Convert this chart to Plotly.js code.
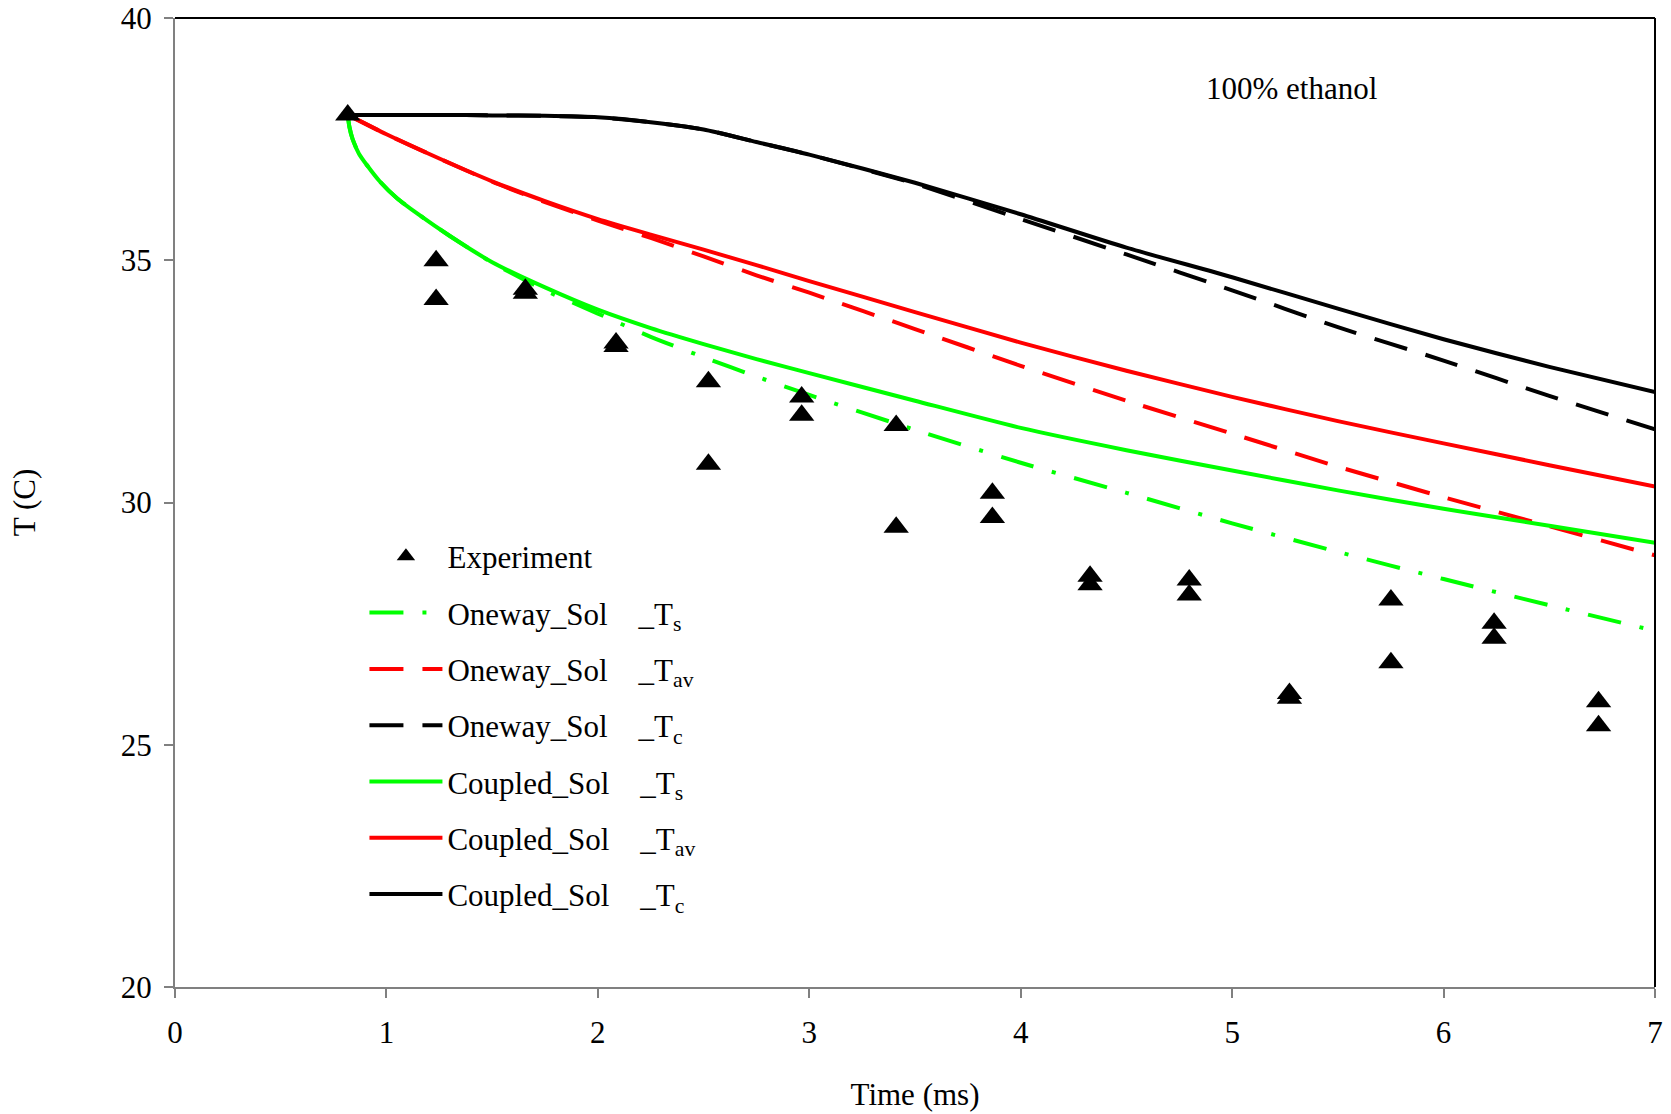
<!DOCTYPE html>
<html>
<head>
<meta charset="utf-8">
<script src="https://cdn.plot.ly/plotly-3.0.1.min.js"></script>
<style>html,body{margin:0;padding:0;background:#fff;}#chart{width:1671px;height:1114px;}</style>
</head>
<body>
<div id="chart"></div>
<script>
// Experiment (triangles)
const expTime = [0.817, 1.235, 1.235, 1.657, 1.657, 2.086, 2.086, 2.523, 2.523, 2.964, 2.964, 3.411, 3.411, 3.866, 3.866, 4.328, 4.328, 4.797, 4.797, 5.271, 5.271, 5.751, 5.751, 6.239, 6.239, 6.733, 6.733];
const expTemp = [38.0, 34.99, 34.19, 34.40, 34.32, 33.29, 33.22, 32.49, 30.79, 32.18, 31.80, 31.59, 29.49, 30.19, 29.69, 28.48, 28.30, 28.40, 28.09, 26.06, 25.96, 27.99, 26.69, 27.51, 27.20, 25.89, 25.39];

// Surface temperature curves (denser near start)
const tsTime = [0.817, 0.825, 0.84, 0.87, 0.91, 0.97, 1.05, 1.15, 1.3, 1.5, 1.75, 2.0, 2.25, 2.5, 2.75, 3.0, 3.5, 4.0, 4.5, 5.0, 5.5, 6.0, 6.5, 7.0];
const onewayTs  = [38.0, 37.75, 37.5, 37.2, 36.95, 36.62, 36.28, 35.95, 35.5, 34.95, 34.38, 33.9, 33.42, 33.0, 32.6, 32.22, 31.5, 30.82, 30.2, 29.57, 28.98, 28.42, 27.88, 27.35];
const coupledTs = [38.0, 37.75, 37.5, 37.2, 36.95, 36.62, 36.28, 35.95, 35.5, 34.96, 34.44, 33.98, 33.6, 33.27, 32.96, 32.67, 32.1, 31.54, 31.08, 30.66, 30.25, 29.87, 29.52, 29.17];

// Average and centre temperature curves
const tTime = [0.817, 1.0, 1.25, 1.5, 1.75, 2.0, 2.25, 2.5, 2.75, 3.0, 3.5, 4.0, 4.5, 5.0, 5.5, 6.0, 6.5, 7.0];
const onewayTav  = [38.0, 37.6, 37.1, 36.62, 36.2, 35.82, 35.46, 35.08, 34.69, 34.33, 33.58, 32.82, 32.1, 31.42, 30.74, 30.11, 29.51, 28.91];
const coupledTav = [38.0, 37.6, 37.1, 36.63, 36.22, 35.85, 35.53, 35.22, 34.9, 34.57, 33.93, 33.3, 32.72, 32.18, 31.68, 31.22, 30.77, 30.33];
const onewayTc   = [38.0, 38.0, 38.0, 37.99, 37.98, 37.95, 37.85, 37.7, 37.44, 37.18, 36.58, 35.85, 35.12, 34.38, 33.62, 32.93, 32.2, 31.51];
const coupledTc  = [38.0, 38.0, 38.0, 37.99, 37.98, 37.95, 37.85, 37.7, 37.44, 37.18, 36.6, 35.95, 35.26, 34.65, 34.0, 33.37, 32.8, 32.28];

const xTicks = [0, 1, 2, 3, 4, 5, 6, 7];
const yTicks = [20, 25, 30, 35, 40];

const GREEN = '#00ff00', RED = '#ff0000', BLACK = '#000000';
const FONT = 'Liberation Serif, Times New Roman, serif';
const SP = '\u00a0\u00a0\u00a0\u00a0';
const DASH = '34px,19px';
const DASHDOT = '34px,19px,4px,19px';

function line(name, x, y, color, dash, rank) {
  return {x: x, y: y, type: 'scatter', mode: 'lines', name: name,
    legendgroup: 'g' + rank, legendrank: rank,
    line: {color: color, width: 4, dash: dash, shape: 'spline', smoothing: 0.6}};
}

const traces = [
  line('Oneway_Sol' + SP + '_T<sub>s</sub>', tsTime, onewayTs, GREEN, DASHDOT, 2),
  line('Oneway_Sol' + SP + '_T<sub>av</sub>', tTime, onewayTav, RED, DASH, 3),
  line('Oneway_Sol' + SP + '_T<sub>c</sub>', tTime, onewayTc, BLACK, DASH, 4),
  line('Coupled_Sol' + SP + '_T<sub>s</sub>', tsTime, coupledTs, GREEN, 'solid', 5),
  line('Coupled_Sol' + SP + '_T<sub>av</sub>', tTime, coupledTav, RED, 'solid', 6),
  line('Coupled_Sol' + SP + '_T<sub>c</sub>', tTime, coupledTc, BLACK, 'solid', 7),
  {x: expTime, y: expTemp, type: 'scatter', mode: 'markers', name: 'Experiment',
   legendgroup: 'g1', legendrank: 1,
   marker: {symbol: 'triangle-up', size: 22, color: BLACK}}
];

const layout = {
  width: 1671, height: 1114,
  margin: {l: 175, r: 16, t: 18, b: 127},
  paper_bgcolor: '#ffffff', plot_bgcolor: '#ffffff',
  font: {family: FONT, size: 31, color: '#000'},
  showlegend: true,
  legend: {x: 0.128, y: 0.472, xanchor: 'left', yanchor: 'top',
    bgcolor: 'rgba(0,0,0,0)', itemwidth: 73, tracegroupgap: 13,
    font: {family: FONT, size: 31, color: '#000'}},
  xaxis: {range: [0, 7], tickvals: xTicks, ticktext: xTicks.map(String),
    showgrid: false, zeroline: false, showline: true, linecolor: '#808080', linewidth: 2,
    ticks: 'outside', ticklen: 9, tickwidth: 2, tickcolor: '#808080', ticklabelstandoff: 8,
    tickfont: {family: FONT, size: 31, color: '#000'},
    title: {text: 'Time (ms)', font: {family: FONT, size: 31, color: '#000'}, standoff: 34}},
  yaxis: {range: [20, 40], tickvals: yTicks, ticktext: yTicks.map(String),
    showgrid: false, zeroline: false, showline: true, linecolor: '#808080', linewidth: 2,
    ticks: 'outside', ticklen: 9, tickwidth: 2, tickcolor: '#808080', ticklabelstandoff: 6,
    tickfont: {family: FONT, size: 31, color: '#000'},
    title: {text: 'T (C)', font: {family: FONT, size: 31, color: '#000'}, standoff: 76}},
  shapes: [
    {type: 'line', xref: 'paper', yref: 'paper', x0: 0, x1: 1, y0: 1, y1: 1, line: {color: BLACK, width: 2}},
    {type: 'line', xref: 'paper', yref: 'paper', x0: 1, x1: 1, y0: 0, y1: 1, line: {color: BLACK, width: 2}}
  ],
  annotations: [
    {text: '100% ethanol', x: 5.28, y: 38.55, xref: 'x', yref: 'y', showarrow: false,
     font: {family: FONT, size: 31, color: '#000'}}
  ]
};

Plotly.newPlot('chart', traces, layout, {displayModeBar: false, staticPlot: true});
</script>
</body>
</html>
